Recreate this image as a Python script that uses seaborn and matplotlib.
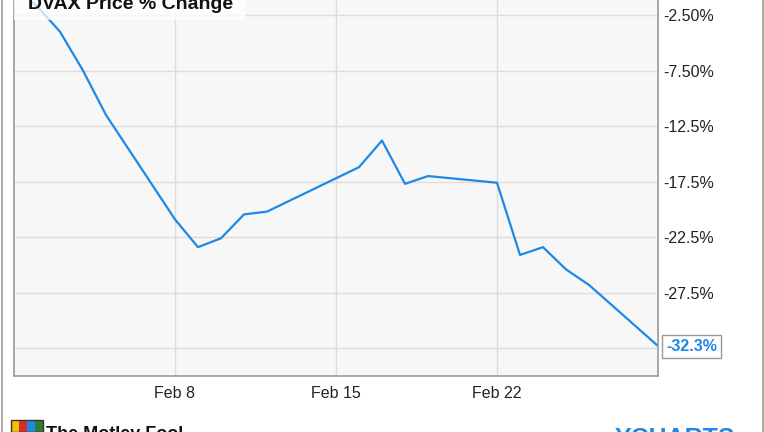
import pandas as pd
import matplotlib.pyplot as plt
from matplotlib.lines import Line2D
from matplotlib.patches import Rectangle
import seaborn as sns

# DVAX daily % change, Feb 2021 (trading days)
dates = ["2021-02-01", "2021-02-02", "2021-02-03", "2021-02-04", "2021-02-05",
         "2021-02-08", "2021-02-09", "2021-02-10", "2021-02-11", "2021-02-12",
         "2021-02-16", "2021-02-17", "2021-02-18", "2021-02-19", "2021-02-22",
         "2021-02-23", "2021-02-24", "2021-02-25", "2021-02-26", "2021-03-01"]
pct_change = [0.0, -1.7, -4.0, -7.5, -11.5,
              -20.9, -23.4, -22.6, -20.45, -20.2,
              -16.2, -13.8, -17.7, -17.0, -17.6,
              -24.1, -23.4, -25.4, -26.8, -32.3]
y_ticks = [-2.5, -7.5, -12.5, -17.5, -22.5, -27.5, -32.5]
y_labels = ["-2.50%", "-7.50%", "-12.5%", "-17.5%", "-22.5%", "-27.5%", ""]
x_ticks = ["2021-02-08", "2021-02-15", "2021-02-22"]
x_labels = ["Feb 8", "Feb 15", "Feb 22"]
last_label = "-32.3%"

df = pd.DataFrame({"date": pd.to_datetime(dates), "pct": pct_change})

sns.set_style("white")
plt.rcParams['font.family'] = ['Liberation Sans', 'DejaVu Sans']

line_color = "#1e88e5"
grid_color = "#dcdcdc"
spine_color = "#9a9a9a"

fig = plt.figure(figsize=(7.64, 4.32), dpi=100)
W, H = 764, 432
# plot area runs off the top edge of the image (cropped screenshot)
ax = fig.add_axes([14 / W, 56 / H, 644 / W, (376 + 12.75) / H])
ax.set_facecolor("#f7f7f7")

sns.lineplot(data=df, x="date", y="pct", ax=ax, color=line_color, linewidth=1.6)

ax.set_xlim(pd.Timestamp("2021-02-01"), pd.Timestamp("2021-03-01"))
ax.set_ylim(-35.0, 0.0)

ax.set_xticks(pd.to_datetime(x_ticks))
ax.set_xticklabels(x_labels)
ax.set_yticks(y_ticks)
ax.set_yticklabels(y_labels)
ax.yaxis.tick_right()
ax.tick_params(axis="y", length=0, pad=4, labelsize=11.5, labelcolor="#222222")
ax.tick_params(axis="x", length=0, pad=7, labelsize=11.5, labelcolor="#222222")
ax.set_xlabel("")
ax.set_ylabel("")
ax.grid(True, color=grid_color, linewidth=1.0)
ax.set_axisbelow(True)

for side in ["left", "right", "bottom"]:
    ax.spines[side].set_color(spine_color)
    ax.spines[side].set_linewidth(1.2)
ax.spines["top"].set_visible(False)

# title box, semi transparent, top-left of plot
fig.patches.append(Rectangle((14 / W, 1 - 20 / H), 232 / W, 20 / H, transform=fig.transFigure,
                             facecolor="white", alpha=0.75, edgecolor="none", zorder=5))
fig.text(28 / W, 1 - 9 / H, "DVAX Price % Change", fontsize=14, fontweight="bold",
         color="#111111", va="baseline", ha="left", zorder=6)

# last value callout
last_x = df["date"].iloc[-1]
last_y = df["pct"].iloc[-1]
ax.annotate(last_label, xy=(last_x, last_y), xytext=(6, 0), textcoords="offset points",
            ha="left", va="center", fontsize=11.5, fontweight="bold", color=line_color,
            annotation_clip=False,
            bbox=dict(boxstyle="square,pad=0.25", facecolor="white", edgecolor="#999999", linewidth=1))

# outer frame
fig.add_artist(Line2D([1.5 / W, 1.5 / W], [0, 1], color="#9a9a9a", linewidth=1.2))
fig.add_artist(Line2D([762.5 / W, 762.5 / W], [0, 1], color="#9a9a9a", linewidth=1.2))

# footer (cropped by the image edge)
logo_cols = ["#f2c200", "#d32f2f", "#1e88e5", "#2e7d32"]
for i, c in enumerate(logo_cols):
    fig.patches.append(Rectangle(((11 + i * 8) / W, 0), 8 / W, 12 / H, transform=fig.transFigure,
                                 facecolor=c, edgecolor="none"))
fig.patches.append(Rectangle((11 / W, 0), 32 / W, 12 / H, transform=fig.transFigure,
                             facecolor="none", edgecolor="#333333", linewidth=1))
fig.text(46 / W, -11 / H, "The Motley Fool", fontsize=13, fontweight="bold", color="#111111",
         ha="left", va="bottom")
fig.text(615 / W, -19 / H, "YCHARTS", fontsize=18, fontweight="bold", color="#1e88e5",
         ha="left", va="bottom")

fig.savefig("out.png", dpi=100)
